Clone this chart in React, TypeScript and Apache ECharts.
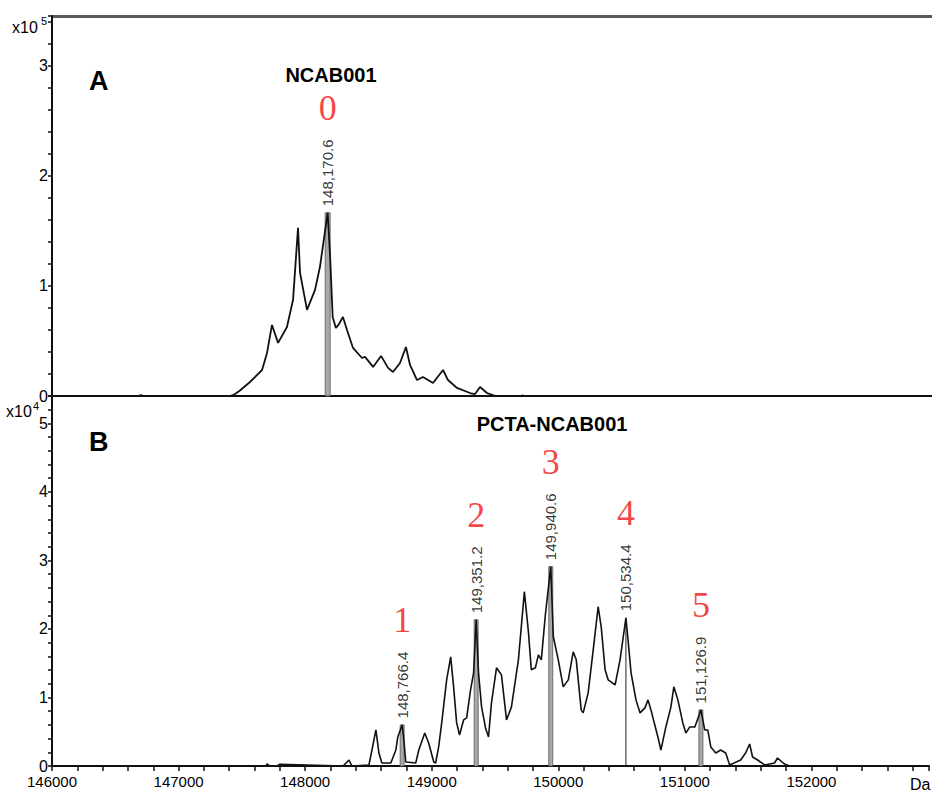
import React, { useEffect, useRef } from "react";
import * as echarts from "echarts";

// ---------- Data ----------
// Panel A: NCAB001 deconvoluted mass spectrum (mass in Da, intensity in counts)
const massA = [
  146000, 146680, 146700, 146720, 147400, 147430, 147480, 147559, 147654, 147693, 147732, 147780,
  147850, 147898, 147937, 147953, 148008, 148071, 148110, 148170.6, 148190, 148210,
  148235, 148255, 148291, 148323, 148370, 148441, 148465, 148528, 148591, 148646,
  148685, 148740, 148787, 148819, 148874, 148921, 149000, 149079, 149118, 149189,
  149291, 149331, 149370, 149425, 149472, 149500, 149695, 149705, 149715, 152929,
];
const intensityA = [
  0, 0, 900, 0, 0, 1000, 5000, 12700, 23600, 39100, 64500, 48200,
  62700, 87300, 152700, 111800, 78200, 96400, 117300, 166400, 126400, 71800,
  61800, 64500, 71800, 60000, 43600, 34500, 35500, 26400, 36400, 25500,
  21800, 30000, 44500, 28200, 14500, 17300, 11800, 23600, 14500, 7300,
  2700, 1800, 8200, 2700, 900, 0, 0, 600, 0, 0,
];

// Panel B: PCTA-NCAB001
const massB = [
  146000, 147690, 147700, 147720, 147780, 147800, 148300, 148346, 148370, 148504, 148528, 148559, 148583,
  148606, 148677, 148717, 148732, 148766.4, 148780, 148795, 148874, 148898, 148945,
  148976, 149016, 149031, 149055, 149079, 149118, 149150, 149173, 149197, 149220,
  149252, 149276, 149307, 149331, 149351.2, 149370, 149394, 149425, 149449, 149472,
  149512, 149551, 149591, 149630, 149685, 149732, 149764, 149787, 149819, 149843,
  149866, 149898, 149940.6, 149961, 150000, 150039, 150079, 150118, 150142, 150181,
  150197, 150236, 150276, 150315, 150339, 150370, 150394, 150449, 150488, 150534.4,
  150551, 150575, 150614, 150646, 150685, 150709, 150732, 150787, 150811, 150850,
  150890, 150913, 150945, 150984, 151008, 151039, 151079, 151126.9, 151157, 151181,
  151205, 151244, 151283, 151323, 151354, 151441, 151480, 151512, 151535, 151575,
  151630, 151709, 151732, 151787, 151827, 152929,
];
const intensityB = [
  0, 0, 300, 0, 0, 250, 0, 877, 0, 146, 2339, 5263, 1900,
  439, 439, 2339, 4240, 5994, 3801, 585, 439, 2339, 4825,
  3363, 585, 439, 2778, 6287, 12573, 15936, 11550, 6287, 4532,
  6725, 7018, 11111, 13597, 21345, 13597, 8626, 5556, 4240, 9211,
  14328, 13304, 6725, 8626, 15497, 25439, 19591, 14035, 14328, 16228,
  15497, 22076, 29094, 18860, 15497, 11550, 12573, 16667, 15497, 8187,
  7749, 10673, 16959, 23246, 20322, 14035, 12573, 11842, 15497, 21638,
  18421, 13597, 9649, 7749, 8480, 9649, 8187, 4240, 2339, 5702,
  8626, 11550, 9649, 6287, 4825, 5702, 5702, 8187, 5263, 5263,
  2778, 1900, 2339, 1900, 146, 877, 1900, 3216, 1316, 877,
  146, 439, 1170, 292, 0, 0,
];

// Annotated peaks
const peakMassA = [148170.6];
const peakHeightA = [166400];
const peakIdA = ["0"];

const peakMassB = [148766.4, 149351.2, 149940.6, 150534.4, 151126.9];
const peakHeightB = [5994, 21345, 29094, 21638, 8187];
const peakIdB = ["1", "2", "3", "4", "5"];

// Axis ranges / ticks
const xMin = 146000;
const xMax = 152929;
const xTickStep = 200;
const xLabelStep = 1000;
const yMaxA = 345000;
const yTickStepA = 20000;
const yLabelStepA = 100000;
const yMaxB = 54000;
const yTickStepB = 2000;
const yLabelStepB = 10000;

// styles
const SANS = "'Liberation Sans', Arial, Helvetica, sans-serif";
const SERIF = "'Liberation Serif', 'Times New Roman', serif";
const INK = "#111";
const RED = "#f01414";
const barPxA = [5];
const barPxB = [4, 4, 4, 1, 4];

const fmtMass = (m: number) =>
  m.toLocaleString("en-US", { minimumFractionDigits: 1, maximumFractionDigits: 1 });

function zip(a: number[], b: number[]) {
  return a.map((v, i) => [v, b[i]]);
}

function peakBars(xi: number, data: number[][], widths: number[]) {
  return {
    type: "custom",
    xAxisIndex: xi,
    yAxisIndex: xi,
    silent: true,
    z: 1,
    data,
    encode: { x: 0, y: 1 },
    renderItem: (params: any, api: any) => {
      const x = api.value(0);
      const h = api.value(1);
      const base = api.coord([x, 0]);
      const top = api.coord([x, h]);
      const w = widths[params.dataIndex];
      return {
        type: "rect",
        shape: { x: base[0] - w / 2, y: top[1], width: w, height: base[1] - top[1] },
        style: w > 1 ? { fill: "#a9a9a9", stroke: "#555", lineWidth: 0.8 } : { fill: "#222" },
      };
    },
  };
}

function peakLabels(xi: number, data: number[][]) {
  return {
    type: "scatter",
    xAxisIndex: xi,
    yAxisIndex: xi,
    silent: true,
    symbolSize: 1,
    itemStyle: { color: "rgba(0,0,0,0)" },
    z: 5,
    data,
    label: {
      show: true,
      position: "top",
      distance: 6,
      rotate: 90,
      align: "left",
      verticalAlign: "middle",
      fontFamily: SANS,
      fontSize: 15,
      color: "#000",
      formatter: (p: any) => fmtMass(p.value[0]),
    },
  };
}

function peakIds(xi: number, data: number[][], ids: string[]) {
  return {
    type: "scatter",
    xAxisIndex: xi,
    yAxisIndex: xi,
    silent: true,
    symbolSize: 1,
    itemStyle: { color: "rgba(0,0,0,0)" },
    z: 5,
    data,
    label: {
      show: true,
      position: "top",
      distance: 104,
      align: "center",
      verticalAlign: "middle",
      fontFamily: SERIF,
      fontSize: 36,
      color: RED,
      formatter: (p: any) => ids[p.dataIndex],
    },
  };
}

function xAxisCfg(gridIndex: number, showLabels: boolean) {
  return {
    type: "value",
    gridIndex,
    min: xMin,
    max: xMax,
    interval: xTickStep,
    axisLine: { show: true, onZero: false, lineStyle: { color: INK, width: 2 } },
    axisTick: { show: showLabels, length: 5, lineStyle: { color: INK, width: 1.5 } },
    splitLine: { show: false },
    axisLabel: {
      show: showLabels,
      margin: 8,
      fontFamily: SANS,
      fontSize: 15,
      color: "#000",
      formatter: (v: number) => (Math.abs(v % xLabelStep) < 1e-6 ? String(v) : ""),
    },
  };
}

function yAxisCfg(gridIndex: number, max: number, step: number, labelStep: number) {
  return {
    type: "value",
    gridIndex,
    min: 0,
    max,
    interval: step,
    axisLine: { show: true, onZero: false, lineStyle: { color: INK, width: 2 } },
    axisTick: { show: true, length: 4, lineStyle: { color: INK, width: 1.5 } },
    splitLine: { show: false },
    axisLabel: {
      margin: 4,
      fontFamily: SANS,
      fontSize: 16,
      color: "#000",
      formatter: (v: number) => (Math.abs(v % labelStep) < 1e-6 ? String(v / labelStep) : ""),
    },
  };
}

export default function App() {
  const ref = useRef<HTMLDivElement>(null);

  useEffect(() => {
    if (!ref.current) return;
    const chart = echarts.init(ref.current, undefined, { renderer: "svg" });
    const option: any = {
      animation: false,
      backgroundColor: "#fff",
      grid: [
        { left: 52, top: 16, width: 880, height: 380 },
        { left: 52, top: 396, width: 880, height: 370 },
      ],
      xAxis: [xAxisCfg(0, false), xAxisCfg(1, true)],
      yAxis: [
        yAxisCfg(0, yMaxA, yTickStepA, yLabelStepA),
        yAxisCfg(1, yMaxB, yTickStepB, yLabelStepB),
      ],
      series: [
        peakBars(0, zip(peakMassA, peakHeightA), barPxA),
        peakBars(1, zip(peakMassB, peakHeightB), barPxB),
        {
          type: "line",
          xAxisIndex: 0,
          yAxisIndex: 0,
          data: zip(massA, intensityA),
          showSymbol: false,
          symbol: "none",
          silent: true,
          z: 3,
          lineStyle: { color: INK, width: 1.8 },
        },
        {
          type: "line",
          xAxisIndex: 1,
          yAxisIndex: 1,
          data: zip(massB, intensityB),
          showSymbol: false,
          symbol: "none",
          silent: true,
          z: 3,
          lineStyle: { color: INK, width: 1.6 },
        },
        peakLabels(0, zip(peakMassA, peakHeightA)),
        peakLabels(1, zip(peakMassB, peakHeightB)),
        peakIds(0, zip(peakMassA, peakHeightA), peakIdA),
        peakIds(1, zip(peakMassB, peakHeightB), peakIdB),
      ],
      graphic: [
        { type: "rect", left: 52, top: 15, shape: { width: 880, height: 3 }, style: { fill: "#5a5a5a" }, silent: true },
        { type: "text", left: 12, top: 19, style: { text: "x10", font: `16px ${SANS}`, fill: "#000" } },
        { type: "text", left: 41, top: 15, style: { text: "5", font: `11px ${SANS}`, fill: "#000" } },
        { type: "text", left: 6, top: 403, style: { text: "x10", font: `16px ${SANS}`, fill: "#000" } },
        { type: "text", left: 33, top: 400, style: { text: "4", font: `11px ${SANS}`, fill: "#000" } },
        { type: "text", left: 89, top: 67, style: { text: "A", font: `bold 27px ${SANS}`, fill: "#000" } },
        { type: "text", left: 89, top: 428, style: { text: "B", font: `bold 27px ${SANS}`, fill: "#000" } },
        {
          type: "text",
          x: 331,
          y: 75,
          style: { text: "NCAB001", font: `bold 20px ${SANS}`, fill: "#000", align: "center", verticalAlign: "middle" },
        },
        {
          type: "text",
          x: 552,
          y: 424,
          style: { text: "PCTA-NCAB001", font: `bold 20px ${SANS}`, fill: "#000", align: "center", verticalAlign: "middle" },
        },
        { type: "text", left: 910, top: 776, style: { text: "Da", font: `16px ${SANS}`, fill: "#000" } },
      ],
    };
    chart.setOption(option);
    return () => chart.dispose();
  }, []);

  return (
    <div
      ref={ref}
      style={{ position: "absolute", left: 0, top: 0, width: 932, height: 794, background: "#fff" }}
    />
  );
}
